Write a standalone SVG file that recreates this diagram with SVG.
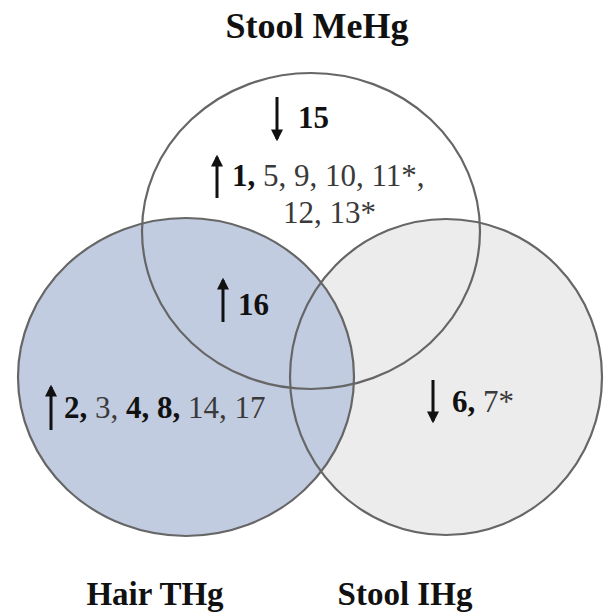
<svg xmlns="http://www.w3.org/2000/svg" width="607" height="616" viewBox="0 0 607 616">
<style>
.fill-top{fill:#ffffff}
.fill-left{fill:#c2cce0}
.fill-right{fill:#ececec}
.ring{fill:none;stroke:#666666;stroke-width:2.2}
text{font-family:"Liberation Serif","Times New Roman",serif;fill:#3a3a3a}
.title{font-weight:bold;fill:#111;text-anchor:middle}
.v{font-size:31px}
.b{font-weight:bold;fill:#111}
.arr{stroke:#111;stroke-width:3;fill:none;marker-end:url(#head)}
</style>
<defs>
<marker id="head" viewBox="0 0 10 10" refX="8" refY="5" markerWidth="4" markerHeight="4" orient="auto" markerUnits="strokeWidth">
<path d="M0,0 L10,5 L0,10 z" fill="#111"/>
</marker>
</defs>
<rect width="607" height="616" fill="#ffffff"/>
<g id="fills">
<ellipse class="fill-top" cx="311" cy="231" rx="169" ry="158"/>
<ellipse class="fill-right" cx="446" cy="377" rx="156" ry="158"/>
<ellipse class="fill-left" cx="186" cy="377" rx="168" ry="159"/>
</g>
<g id="stool-mehg">
<ellipse class="ring" cx="311" cy="231" rx="169" ry="158"/>
<text class="title" x="317" y="38" font-size="36">Stool MeHg</text>
</g>
<g id="hair-thg">
<ellipse class="ring" cx="186" cy="377" rx="168" ry="159"/>
<text class="title" x="155" y="605" font-size="33">Hair THg</text>
</g>
<g id="stool-ihg">
<ellipse class="ring" cx="446" cy="377" rx="156" ry="158"/>
<text class="title" x="405" y="605" font-size="33">Stool IHg</text>
</g>
<g id="connectors">
<path class="arr" d="M277,97 V139"/>
<path class="arr" d="M217,198 V157"/>
<path class="arr" d="M223,322 V280"/>
<path class="arr" d="M51,430 V387"/>
<path class="arr" d="M433,380 V421"/>
</g>
<g id="labels">
<text class="v b" x="298" y="128">15</text>
<text class="v" x="232" y="186"><tspan class="b">1,</tspan> 5, 9, 10, 11*,</text>
<text class="v" x="283" y="223">12, 13*</text>
<text class="v b" x="238" y="315">16</text>
<text class="v" x="64" y="418"><tspan class="b">2,</tspan> 3, <tspan class="b">4, 8,</tspan> 14, 17</text>
<text class="v" x="452" y="412"><tspan class="b">6,</tspan> 7*</text>
</g>
</svg>
